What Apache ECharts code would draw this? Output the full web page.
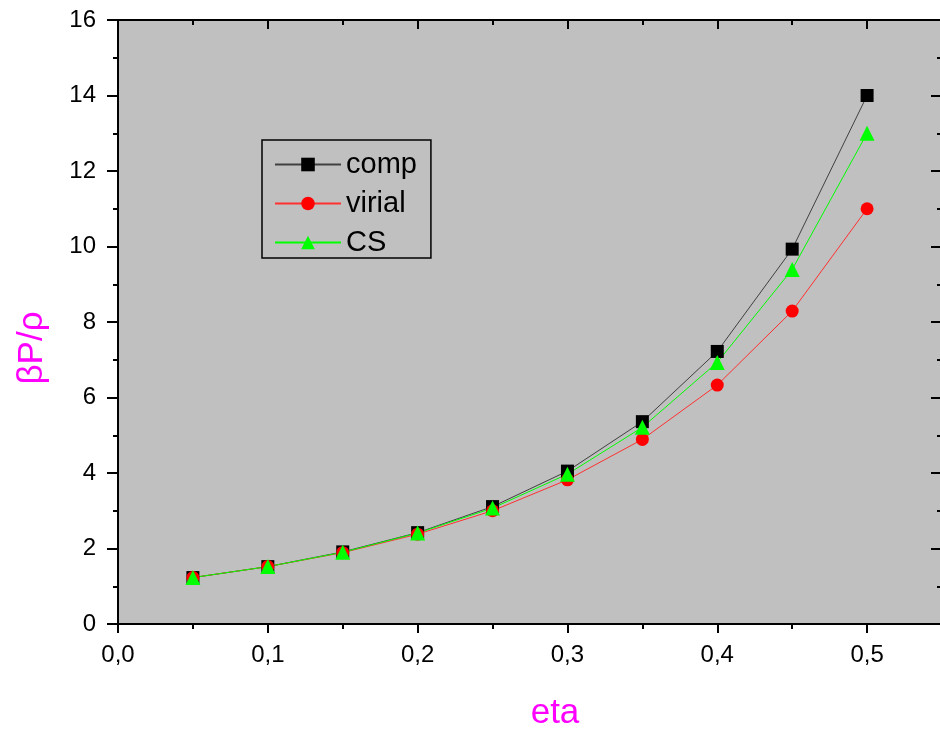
<!DOCTYPE html>
<html>
<head>
<meta charset="utf-8">
<script src="https://cdn.jsdelivr.net/npm/echarts@6/dist/echarts.min.js"></script>
<style>
html, body { margin: 0; padding: 0; background: #fff; }
#container { width: 940px; height: 733px; }
</style>
</head>
<body>
<div id="container"></div>
<script>
var etaValues = [0.05, 0.10, 0.15, 0.20, 0.25, 0.30, 0.35, 0.40, 0.45, 0.50];
var compValues = [1.23, 1.52, 1.91, 2.42, 3.11, 4.05, 5.36, 7.22, 9.93, 14.00];
var virialValues = [1.23, 1.52, 1.89, 2.38, 3.00, 3.82, 4.89, 6.33, 8.29, 11.00];
var csValues = [1.23, 1.52, 1.90, 2.41, 3.07, 3.97, 5.21, 6.93, 9.39, 13.00];
var seriesNames = ['comp', 'virial', 'CS'];

function pairs(ys) {
  var out = [];
  for (var i = 0; i < etaValues.length; i++) out.push([etaValues[i], ys[i]]);
  return out;
}

var dom = document.getElementById('container');
var myChart = echarts.init(dom);

var fontFam = 'Liberation Sans, Arial, sans-serif';
var labelFont = { fontFamily: fontFam, fontSize: 24, color: '#000' };
var axisLine = { show: true, onZero: false, lineStyle: { color: '#000', width: 2 } };
var tickStyle = { color: '#000', width: 2 };

// labels only on the 0.1 steps, with a comma as decimal mark
function xFmt(v) {
  var r = Math.round(v * 10);
  if (Math.abs(v * 10 - r) > 1e-6) return '';
  return (r / 10).toFixed(1).replace('.', ',');
}

var option = {
  animation: false,
  backgroundColor: '#fff',
  grid: {
    left: 118, top: 20, right: -2, bottom: 109,
    outerBoundsMode: 'none',
    containLabel: false,
    show: true, backgroundColor: '#c0c0c0', borderWidth: 0
  },
  legend: {
    data: seriesNames,
    orient: 'vertical',
    left: 262, top: 140,
    padding: [10, 14, 1, 12],
    itemGap: 10,
    itemWidth: 66, itemHeight: 17,
    backgroundColor: '#c0c0c0',
    borderColor: '#000', borderWidth: 1.5,
    textStyle: { fontFamily: fontFam, fontSize: 29, color: '#000', lineHeight: 27 }
  },
  xAxis: [{
    type: 'value', min: 0, max: 0.55, interval: 0.1,
    position: 'bottom',
    name: 'eta', nameLocation: 'middle', nameGap: 72,
    nameTextStyle: { fontFamily: fontFam, fontSize: 35, color: '#ff00ff', padding: [0, 0, 0, 50] },
    axisLine: axisLine,
    axisTick: { show: true, length: 9, lineStyle: tickStyle },
    minorTick: { show: true, splitNumber: 2, length: 5, lineStyle: tickStyle },
    axisLabel: Object.assign({ margin: 19, formatter: xFmt }, labelFont),
    splitLine: { show: false }
  }, {
    type: 'value', min: 0, max: 0.55, interval: 0.1,
    position: 'top',
    axisLine: axisLine,
    axisTick: { show: true, inside: true, length: 9, lineStyle: tickStyle },
    minorTick: { show: true, splitNumber: 2, length: 5, lineStyle: tickStyle },
    axisLabel: { show: false },
    splitLine: { show: false }
  }],
  yAxis: [{
    type: 'value', min: 0, max: 16, interval: 2,
    position: 'left',
    name: 'βP/ρ', nameLocation: 'middle', nameGap: 68,
    nameTextStyle: { fontFamily: fontFam, fontSize: 35, color: '#ff00ff', padding: [0, 52, 0, 0] },
    axisLine: axisLine,
    axisTick: { show: true, length: 11, lineStyle: tickStyle },
    minorTick: { show: true, splitNumber: 2, length: 5, lineStyle: tickStyle },
    axisLabel: Object.assign({ margin: 22 }, labelFont),
    splitLine: { show: false }
  }, {
    type: 'value', min: 0, max: 16, interval: 2,
    position: 'right',
    axisLine: axisLine,
    axisTick: { show: true, inside: true, length: 11, lineStyle: tickStyle },
    minorTick: { show: true, splitNumber: 2, length: 5, lineStyle: tickStyle },
    axisLabel: { show: false },
    splitLine: { show: false }
  }],
  series: [{
    name: 'comp', type: 'line', data: pairs(compValues),
    symbol: 'rect', symbolSize: 13,
    itemStyle: { color: '#000' },
    lineStyle: { color: '#404040', width: 1 }
  }, {
    name: 'virial', type: 'line', data: pairs(virialValues),
    symbol: 'circle', symbolSize: 13,
    itemStyle: { color: '#ff0000' },
    lineStyle: { color: '#ff3030', width: 1 }
  }, {
    name: 'CS', type: 'line', data: pairs(csValues),
    symbol: 'triangle', symbolSize: 15,
    itemStyle: { color: '#00ff00' },
    lineStyle: { color: '#00ff00', width: 1 }
  }]
};

myChart.setOption(option);
</script>
</body>
</html>
